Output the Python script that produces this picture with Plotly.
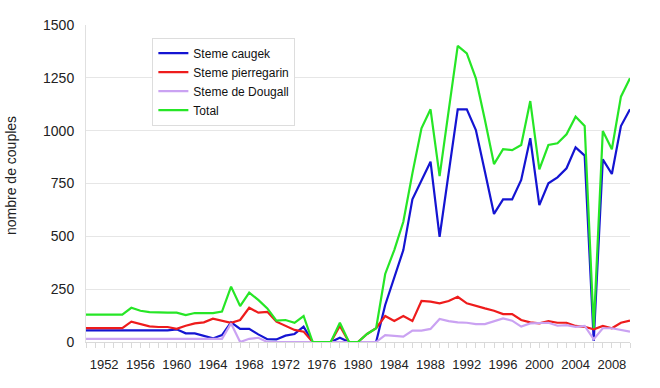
import plotly.graph_objects as go

years = list(range(1950, 2011))

caugek = [55, 55, 55, 55, 55, 55, 55, 55, 55, 55,
          60, 41, 41, 30, 17, 33, 93, 62, 62, 36,
          13, 12, 30, 38, 73, 0, 0, 0, 20, 0,
          0, 0, 0, 175, 309, 435, 675, 762, 853, 498,
          800, 1101, 1101, 1003, 806, 606, 675, 675, 767, 964,
          648, 751, 779, 822, 921, 882, 5, 864, 795, 1022,
          1101]

pierregarin = [66, 66, 66, 66, 66, 96, 85, 74, 71, 71,
               62, 77, 88, 93, 110, 101, 91, 104, 162, 139,
               143, 96, 76, 57, 49, 0, 0, 0, 76, 0,
               0, 38, 65, 123, 99, 123, 99, 194, 191, 183,
               194, 214, 183, 170, 159, 148, 132, 132, 104, 93,
               88, 99, 91, 91, 76, 72, 60, 76, 65, 91,
               101]

dougall = [15, 15, 15, 15, 15, 15, 15, 15, 15, 15,
           15, 15, 15, 15, 15, 15, 88, 0, 15, 20,
           0, 0, 0, 0, 0, 0, 0, 0, 0, 0,
           0, 0, 0, 33, 28, 25, 54, 54, 62, 109,
           99, 93, 91, 85, 85, 99, 112, 101, 73, 88,
           88, 91, 77, 80, 72, 76, 13, 65, 65, 57,
           49]

total = [130, 130, 130, 130, 130, 162, 148, 141, 139, 139,
         139, 127, 137, 137, 137, 144, 262, 170, 234, 199,
         159, 101, 104, 91, 123, 0, 0, 0, 91, 0,
         0, 38, 65, 322, 435, 569, 798, 1011, 1101, 785,
         1095, 1401, 1366, 1248, 1050, 842, 912, 908, 932, 1140,
         817, 932, 940, 983, 1066, 1022, 65, 998, 912, 1161,
         1248]

series_names = ["Steme caugek", "Steme pierregarin", "Steme de Dougall", "Total"]
series_values = [caugek, pierregarin, dougall, total]
series_colors = ["#1414d2", "#ee1c1c", "#caa2f2", "#26e626"]

tick_years = list(range(1952, 2010, 4))
y_ticks = [0, 250, 500, 750, 1000, 1250, 1500]

FONT = "Liberation Sans, Arial, sans-serif"

fig = go.Figure()
for name, vals, col in zip(series_names, series_values, series_colors):
    fig.add_trace(go.Scatter(x=years, y=vals, mode="lines", name=name,
                             line=dict(color=col, width=2.2)))

fig.update_layout(
    width=660, height=388,
    margin=dict(l=86, r=30, t=25, b=46),
    paper_bgcolor="white", plot_bgcolor="white",
    font=dict(family=FONT, color="#222222"),
    showlegend=True,
    legend=dict(x=0.122, y=0.96, xanchor="left", yanchor="top",
                bgcolor="white", bordercolor="#dddddd", borderwidth=1,
                font=dict(size=12, family=FONT, color="#111111"),
                itemwidth=30, tracegroupgap=0),
    xaxis=dict(range=[1950, 2010], tickmode="array", tickvals=tick_years,
               ticktext=[str(y) for y in tick_years],
               showgrid=False, zeroline=False,
               showline=True, linecolor="#d9d9d9", linewidth=1,
               ticks="outside", ticklen=5, tickcolor="#d9d9d9",
               ticklabelstandoff=5,
               minor=dict(dtick=1, tick0=1950, ticks="outside", ticklen=5,
                          tickcolor="#d9d9d9", showgrid=False),
               tickfont=dict(size=13, family=FONT, color="#222222")),
    yaxis=dict(range=[0, 1500], tickvals=y_ticks,
               showgrid=True, gridcolor="#e6e6e6", gridwidth=1,
               zeroline=False, showline=True, linecolor="#e0e0e0",
               ticks="", ticklabelstandoff=8,
               tickfont=dict(size=14, family=FONT, color="#222222")),
    annotations=[dict(text="nombre de couples", xref="paper", yref="paper",
                      x=(11 - 86) / 544, y=(342 - 176) / 317,
                      xanchor="center", yanchor="middle", textangle=-90,
                      showarrow=False,
                      font=dict(size=14, family=FONT, color="#222222"))],
)

fig.write_html("out.html", config={"displayModeBar": False},
               post_script="document.body.style.margin='0px';")
